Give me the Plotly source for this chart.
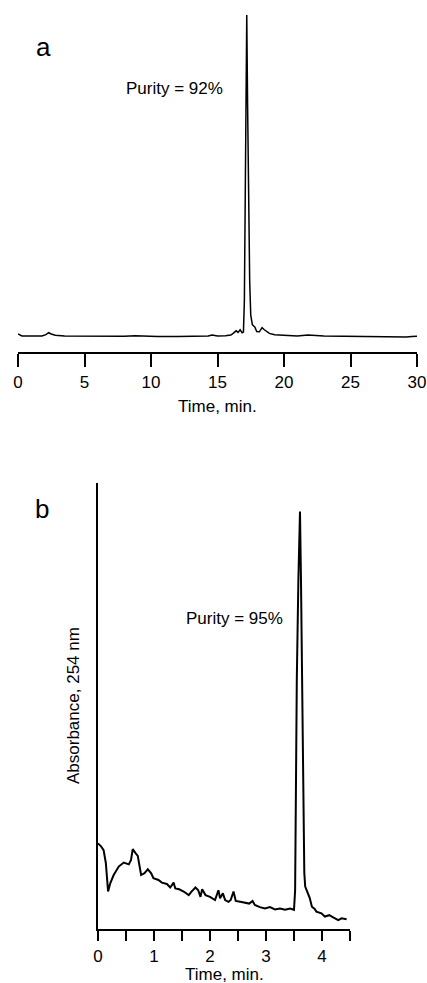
import plotly.graph_objects as go

# ---------------- Data ----------------
# Panel a: chromatogram, 0-30 min (relative absorbance)
time_a = [0.0, 0.3, 1.0, 1.8, 2.1, 2.3, 2.5, 2.8, 3.5, 5.0, 6.5, 8.0, 8.8, 9.3,
          10.5, 12.0, 13.5, 14.3, 14.6, 15.0, 15.6, 16.0, 16.2, 16.4, 16.55,
          16.7, 16.85, 16.95, 17.02, 17.08, 17.14, 17.2, 17.26, 17.33, 17.42,
          17.5, 17.62, 17.8, 17.95, 18.15, 18.35, 18.5, 18.7, 18.9, 19.3, 20.0,
          21.0, 21.8, 22.3, 23.0, 24.5, 26.0, 27.5, 28.5, 29.2, 29.6, 30.0]
abs_a = [0.006, 0.0, 0.0, 0.0, 0.004, 0.010, 0.006, 0.002, 0.0, -0.001, -0.001,
         -0.001, 0.001, 0.0, -0.002, -0.002, -0.001, 0.0, 0.003, 0.0, 0.001,
         0.003, 0.009, 0.016, 0.011, 0.019, 0.010, 0.012, 0.11, 0.42, 0.73,
         1.0, 0.73, 0.42, 0.17, 0.065, 0.035, 0.028, 0.014, 0.013, 0.026,
         0.020, 0.014, 0.008, 0.004, 0.002, 0.0, 0.003, 0.001, 0.0, -0.001,
         -0.002, -0.003, -0.002, -0.003, -0.002, -0.001]

# Panel b: chromatogram, 0-4.5 min (absorbance, 254 nm)
time_b = [0.0, 0.05, 0.10, 0.14, 0.18, 0.22, 0.28, 0.37, 0.46, 0.55, 0.59,
          0.62, 0.67, 0.71, 0.77, 0.83, 0.89, 0.95, 0.99, 1.08, 1.14, 1.23,
          1.29, 1.35, 1.38, 1.45, 1.53, 1.62, 1.67, 1.74, 1.79, 1.83, 1.86,
          1.92, 2.00, 2.09, 2.15, 2.18, 2.23, 2.27, 2.33, 2.37, 2.42, 2.46,
          2.54, 2.63, 2.70, 2.76, 2.80, 2.89, 2.98, 3.07, 3.16, 3.25, 3.34,
          3.43, 3.50, 3.52, 3.535, 3.55, 3.578, 3.607, 3.625, 3.643, 3.666,
          3.684, 3.70, 3.74, 3.78, 3.82, 3.87, 3.90, 3.99, 4.05, 4.13, 4.20,
          4.29, 4.35, 4.44]
abs_b = [0.192, 0.186, 0.177, 0.148, 0.084, 0.103, 0.121, 0.140, 0.149, 0.145,
         0.155, 0.179, 0.170, 0.164, 0.121, 0.125, 0.134, 0.125, 0.114, 0.110,
         0.104, 0.101, 0.093, 0.104, 0.091, 0.089, 0.084, 0.076, 0.084, 0.093,
         0.087, 0.072, 0.089, 0.076, 0.072, 0.065, 0.087, 0.069, 0.080, 0.065,
         0.061, 0.065, 0.084, 0.063, 0.061, 0.059, 0.057, 0.063, 0.054, 0.049,
         0.046, 0.049, 0.044, 0.046, 0.043, 0.046, 0.043, 0.087, 0.334, 0.558,
         0.782, 0.936, 0.780, 0.558, 0.334, 0.126, 0.095, 0.082, 0.070, 0.050,
         0.045, 0.039, 0.035, 0.028, 0.031, 0.026, 0.020, 0.024, 0.022]

ticks_a = [0, 5, 10, 15, 20, 25, 30]
ticks_b = [0, 0.5, 1, 1.5, 2, 2.5, 3, 3.5, 4, 4.5]
ticklabels_b = ["0", "", "1", "", "2", "", "3", "", "4", ""]

# ---------------- Figure ----------------
W, H = 427, 983
FONT = "Liberation Sans, Arial, Helvetica, sans-serif"


def px_x(p):
    return p / W


def px_y(p):
    return (H - p) / H


fig = go.Figure()
fig.add_trace(go.Scatter(x=time_a, y=abs_a, mode="lines",
                         line=dict(color="black", width=1.5),
                         xaxis="x", yaxis="y", showlegend=False))
fig.add_trace(go.Scatter(x=time_b, y=abs_b, mode="lines",
                         line=dict(color="black", width=2),
                         xaxis="x2", yaxis="y2", showlegend=False))

axis_common = dict(showgrid=False, zeroline=False, color="black",
                   automargin=False,
                   tickfont=dict(family=FONT, size=17, color="black"))

fig.update_layout(
    width=W, height=H,
    margin=dict(l=0, r=0, t=0, b=0, autoexpand=False),
    paper_bgcolor="white", plot_bgcolor="white",
    font=dict(family=FONT, color="black"),
    xaxis=dict(domain=[px_x(18), px_x(417)], range=[0, 30], anchor="y",
               showline=True, linewidth=2, linecolor="black",
               ticks="outside", ticklen=13, tickwidth=2, tickcolor="black",
               tickvals=ticks_a, ticklabelstandoff=1, **axis_common),
    yaxis=dict(domain=[px_y(352), px_y(10)], range=[-0.05, 1.0156],
               anchor="x", visible=False, automargin=False),
    xaxis2=dict(domain=[px_x(98), px_x(350)], range=[0, 4.5], anchor="y2",
                showline=True, linewidth=2, linecolor="black",
                ticks="outside", ticklen=10, tickwidth=2, tickcolor="black",
                tickvals=ticks_b, ticktext=ticklabels_b,
                ticklabelstandoff=1, **axis_common),
    yaxis2=dict(domain=[px_y(929), px_y(483)], range=[0, 1], anchor="x2",
                showline=True, linewidth=1.5, linecolor="black",
                showticklabels=False, ticks="", showgrid=False,
                zeroline=False, automargin=False),
)

ann = [
    dict(text="a", x=px_x(43), y=px_y(47), size=26),
    dict(text="Purity = 92%", x=px_x(174), y=px_y(88), size=17),
    dict(text="Time, min.", x=px_x(217.5), y=px_y(406), size=17),
    dict(text="b", x=px_x(42), y=px_y(509), size=26),
    dict(text="Purity = 95%", x=px_x(234), y=px_y(618), size=17),
    dict(text="Time, min.", x=px_x(224), y=px_y(974), size=17),
]
for a in ann:
    fig.add_annotation(text=a["text"], x=a["x"], y=a["y"], xref="paper",
                       yref="paper", xanchor="center", yanchor="middle",
                       showarrow=False,
                       font=dict(family=FONT, size=a["size"], color="black"))
fig.add_annotation(text="Absorbance, 254 nm", x=px_x(73), y=px_y(706),
                   xref="paper", yref="paper", xanchor="center",
                   yanchor="middle", textangle=-90, showarrow=False,
                   font=dict(family=FONT, size=17, color="black"))

fig.write_html("out.html",
               config={"displayModeBar": False},
               post_script="document.body.style.margin='0px';"
                           "document.body.style.overflow='hidden';")
